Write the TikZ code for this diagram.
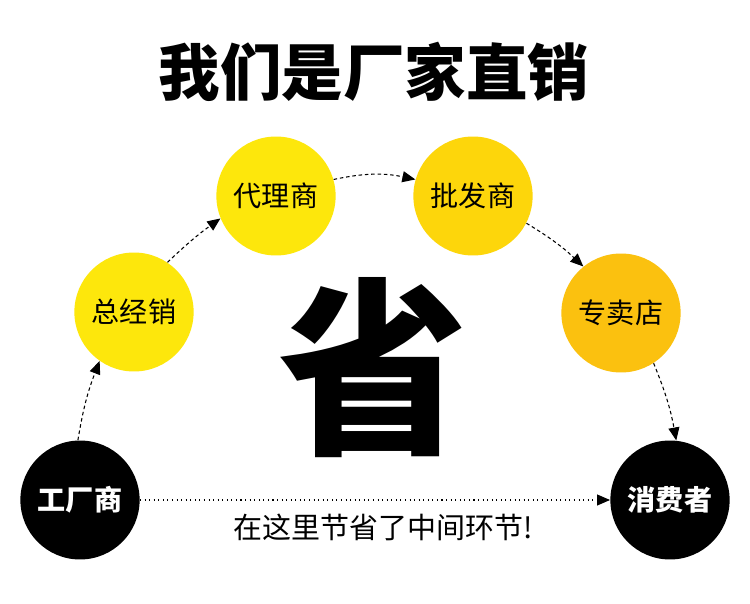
\documentclass[tikz,border=0pt]{standalone}
\usepackage{fontspec}
\newfontfamily\cjk{Noto Sans CJK SC}
\usepackage{tikz}
\usetikzlibrary{shapes.geometric, arrows.meta}

\definecolor{yellowA}{HTML}{FDE70C}
\definecolor{yellowB}{HTML}{FDD60B}
\definecolor{yellowC}{HTML}{FBC10F}

\begin{document}
\begin{tikzpicture}[
  x=0.02cm, y=-0.02cm,
  stage/.style={ellipse, minimum width=2.28cm, minimum height=2.38cm,
                inner sep=0pt, align=center, font=\cjk\fontsize{16}{18}\selectfont},
  endpt/.style={stage, fill=black, text=white, font=\cjk\bfseries\fontsize{16}{18}\selectfont},
  arrow/.style={-{Triangle[length=2.6mm, width=2.2mm]}, semithick,
                dash pattern=on 2pt off 1.6pt},
  darrow/.style={-{Triangle[length=2.6mm, width=2.2mm]}, semithick, dotted}
]
\fill[white] (0,0) rectangle (750,604);

%% ---- Title ----
\node[font=\cjk\bfseries\fontsize{35}{38}\selectfont] at (374, 72) (title) {我们是厂家直销};

%% ---- End points ----
\node[endpt] at (80, 500)  (gc) {工厂商};
\node[endpt] at (670, 500) (xf) {消费者};

%% ---- Middlemen ----
\node[stage, fill=yellowA] at (134, 312) (zj) {总经销};
\node[stage, fill=yellowA] at (276, 196) (dl) {代理商};
\node[stage, fill=yellowB] at (473, 196) (pf) {批发商};
\node[stage, fill=yellowC] at (621, 313) (zm) {专卖店};

%% ---- Centre ----
\node[font=\cjk\bfseries\fontsize{108}{112}\selectfont] at (373, 368) (sheng) {省};
\node[font=\cjk\fontsize{16.5}{18}\selectfont] at (383, 527) (note) {在这里节省了中间环节!};

%% ---- Arrows ----
\draw[arrow]  (gc.92)  to[bend left=6] (zj.235);
\draw[arrow]  (zj.56)  to[bend left=4] (dl.202);
\draw[arrow]  (dl.16)  to[bend left=12] (pf.164);
\draw[arrow]  (pf.-27) to[bend left=6] (zm.129);
\draw[arrow]  (zm.-57) to[bend left=6] (xf.84);
\draw[darrow] (gc) -- (xf);
\end{tikzpicture}
\end{document}
